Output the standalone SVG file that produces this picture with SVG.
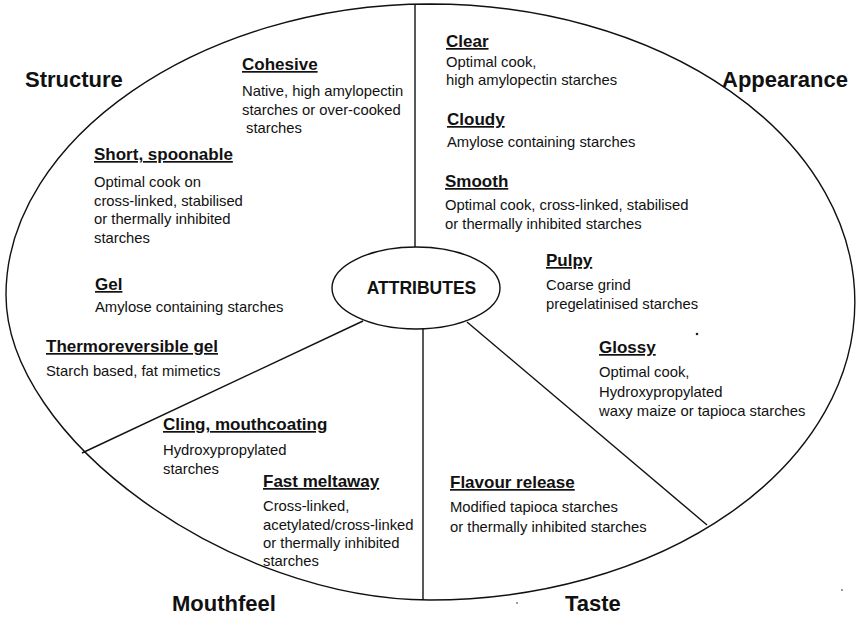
<svg xmlns="http://www.w3.org/2000/svg" width="856" height="619" viewBox="0 0 856 619">
<style>
.cat{font-family:"Liberation Sans",Arial,sans-serif;font-weight:bold;font-size:22px;fill:#111}
.hd{font-family:"Liberation Sans",Arial,sans-serif;font-weight:bold;font-size:17px;fill:#111;text-decoration:underline}
.bd{font-family:"Liberation Sans",Arial,sans-serif;font-size:14.8px;fill:#111}
.ln{fill:none;stroke:#111;stroke-width:1.4}
.ctr{font-family:"Liberation Sans",Arial,sans-serif;font-weight:bold;font-size:17.5px;fill:#111}
</style>
<rect width="856" height="619" fill="#fff"/>
<g id="outline">
<path class="ln" d="M430,4 C200,4 6,140 6,295 C6,438 230,600 430,600 A425 298 0 0 0 430 4 Z"/>
</g>
<g id="connectors">
<line class="ln" x1="415" y1="4" x2="415" y2="247"/>
<line class="ln" x1="423" y1="329" x2="423" y2="600"/>
<line class="ln" x1="363" y1="321" x2="82" y2="453"/>
<line class="ln" x1="467" y1="322" x2="707" y2="525"/>
</g>
<g id="attributes">
<ellipse class="ln" cx="416" cy="288" rx="84" ry="41"/>
<text class="ctr" x="421.5" y="294" text-anchor="middle">ATTRIBUTES</text>
</g>
<g id="categories">
<text class="cat" x="25" y="87">Structure</text>
<text class="cat" x="722" y="87">Appearance</text>
<text class="cat" x="172" y="611">Mouthfeel</text>
<text class="cat" x="565" y="611">Taste</text>
</g>
<g id="cohesive">
<text class="hd" x="242" y="70">Cohesive</text>
<text class="bd" x="242" y="96">Native, high amylopectin</text>
<text class="bd" x="242" y="114.5">starches or over-cooked</text>
<text class="bd" x="246" y="133">starches</text>
</g>
<g id="short-spoonable">
<text class="hd" x="94" y="160">Short, spoonable</text>
<text class="bd" x="94" y="187">Optimal cook on</text>
<text class="bd" x="94" y="205.5">cross-linked, stabilised</text>
<text class="bd" x="94" y="224">or thermally inhibited</text>
<text class="bd" x="94" y="242.5">starches</text>
</g>
<g id="gel">
<text class="hd" x="95" y="290">Gel</text>
<text class="bd" x="95" y="312">Amylose containing starches</text>
</g>
<g id="thermoreversible-gel">
<text class="hd" x="46" y="352">Thermoreversible gel</text>
<text class="bd" x="46" y="376">Starch based, fat mimetics</text>
</g>
<g id="cling">
<text class="hd" x="163" y="430">Cling, mouthcoating</text>
<text class="bd" x="163" y="455">Hydroxypropylated</text>
<text class="bd" x="163" y="474">starches</text>
</g>
<g id="fast-meltaway">
<text class="hd" x="263" y="487">Fast meltaway</text>
<text class="bd" x="263" y="511">Cross-linked,</text>
<text class="bd" x="263" y="529.5">acetylated/cross-linked</text>
<text class="bd" x="263" y="548">or thermally inhibited</text>
<text class="bd" x="263" y="566">starches</text>
</g>
<g id="clear">
<text class="hd" x="446" y="47">Clear</text>
<text class="bd" x="446" y="67">Optimal cook,</text>
<text class="bd" x="446" y="85">high amylopectin starches</text>
</g>
<g id="cloudy">
<text class="hd" x="447" y="125">Cloudy</text>
<text class="bd" x="447" y="147">Amylose containing starches</text>
</g>
<g id="smooth">
<text class="hd" x="445" y="187">Smooth</text>
<text class="bd" x="445" y="210">Optimal cook, cross-linked, stabilised</text>
<text class="bd" x="445" y="229">or thermally inhibited starches</text>
</g>
<g id="pulpy">
<text class="hd" x="546" y="266">Pulpy</text>
<text class="bd" x="546" y="290">Coarse grind</text>
<text class="bd" x="546" y="309">pregelatinised starches</text>
</g>
<g id="glossy">
<text class="hd" x="599" y="353">Glossy</text>
<text class="bd" x="599" y="377">Optimal cook,</text>
<text class="bd" x="599" y="397">Hydroxypropylated</text>
<text class="bd" x="599" y="416">waxy maize or tapioca starches</text>
</g>
<g id="flavour-release">
<text class="hd" x="450" y="488">Flavour release</text>
<text class="bd" x="450" y="512">Modified tapioca starches</text>
<text class="bd" x="450" y="532">or thermally inhibited starches</text>
</g>
<g id="specks" fill="#222">
<circle cx="697" cy="334" r="1.3"/>
<circle cx="517" cy="603" r="0.8"/>
<circle cx="842" cy="590" r="0.8"/>
</g>
</svg>
